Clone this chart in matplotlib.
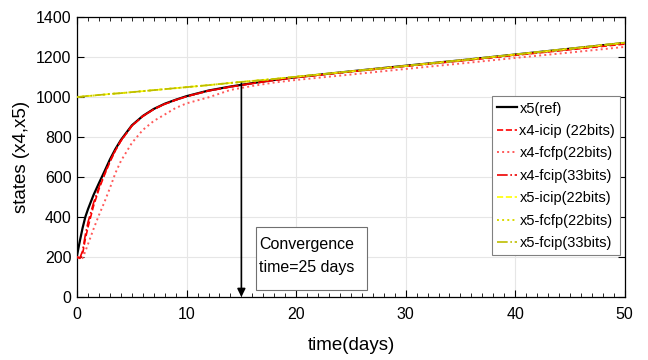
import numpy as np
import matplotlib
matplotlib.use('Agg')
import matplotlib.pyplot as plt
from matplotlib.ticker import MultipleLocator
from matplotlib.patches import Rectangle

plt.rcParams['font.family'] = ['Liberation Sans', 'DejaVu Sans']

# time samples (days)
t = [0, 0.25, 0.5, 0.75, 1, 1.5, 2, 2.5, 3, 3.5, 4, 5, 6, 7, 8, 9, 10,
     12, 14, 16, 18, 20, 25, 30, 35, 40, 45, 50]

# reference x4 trajectory (black)
x_ref = [210, 280, 345, 400, 440, 510, 570, 628, 688, 740, 785, 858, 905, 940,
         966, 986, 1004, 1032, 1052, 1069, 1085, 1099, 1128, 1156, 1183, 1212,
         1241, 1270]

# x4 estimates
x4_icip = [200, 193, 215, 290, 350, 455, 540, 610, 675, 732, 780, 855, 903, 938,
           964, 984, 1002, 1030, 1050, 1067, 1083, 1097, 1126, 1153, 1180, 1208,
           1236, 1264]
x4_fcfp = [200, 192, 195, 228, 265, 340, 410, 475, 545, 620, 680, 770, 835, 880,
           912, 945, 968, 998, 1035, 1055, 1072, 1085, 1112, 1140, 1167, 1195,
           1222, 1250]
x4_fcip = [200, 195, 230, 310, 375, 470, 550, 615, 680, 735, 782, 856, 904, 939,
           965, 985, 1003, 1031, 1051, 1068, 1084, 1098, 1127, 1155, 1182, 1210,
           1239, 1268]

# x5 estimates (all nearly identical)
x5_icip = [1000, 1001, 1002, 1004, 1005, 1007, 1010, 1012, 1015, 1017, 1019, 1024,
           1029, 1034, 1039, 1044, 1049, 1059, 1070, 1080, 1090, 1101, 1128, 1155,
           1183, 1212, 1241, 1271]
x5_fcfp = list(x5_icip)
x5_fcip = list(x5_icip)

conv_day = 15

fig = plt.figure(figsize=(6.48, 3.6), dpi=100)
ax = fig.add_axes([0.119, 0.175, 0.845, 0.778])

ax.plot(t, x_ref, color='k', lw=1.6, label='x5(ref)', zorder=3)
ax.plot(t, x4_icip, color='#ff0000', ls='--', lw=1.2, label='x4-icip (22bits)', zorder=4)
ax.plot(t, x4_fcfp, color='#ff5a5a', ls=':', lw=1.4, label='x4-fcfp(22bits)', zorder=4)
ax.plot(t, x4_fcip, color='#ee0000', ls='-.', lw=1.2, label='x4-fcip(33bits)', zorder=4)
ax.plot(t, x5_icip, color='#ffff00', ls='--', lw=1.2, label='x5-icip(22bits)', zorder=5)
ax.plot(t, x5_fcfp, color='#dada00', ls=':', lw=1.4, label='x5-fcfp(22bits)', zorder=5)
ax.plot(t, x5_fcip, color='#bdbd00', ls='-.', lw=1.2, label='x5-fcip(33bits)', zorder=5)

ax.annotate('', xy=(conv_day, 0), xytext=(conv_day, 1068),
            arrowprops=dict(arrowstyle='-|>', color='k', lw=1.2,
                            mutation_scale=12, shrinkA=0, shrinkB=0), zorder=6)
# text box
ax.add_patch(Rectangle((16.3, 35), 10.2, 315, fc='white', ec='#707070', lw=0.8, zorder=7))
ax.text(16.65, 300, 'Convergence\ntime=25 days', fontsize=11.5, va='top', ha='left',
        linespacing=1.7, zorder=8)

ax.set_xlim(0, 50)
ax.set_ylim(0, 1400)
ax.xaxis.set_major_locator(MultipleLocator(10))
ax.xaxis.set_minor_locator(MultipleLocator(1))
ax.yaxis.set_major_locator(MultipleLocator(200))
ax.tick_params(which='both', direction='in', top=True, right=True, labelsize=11.5)
ax.tick_params(axis='x', which='major', pad=7)
ax.tick_params(axis='y', which='major', pad=4)
ax.tick_params(which='major', length=5, width=0.8)
ax.tick_params(which='minor', length=3, width=0.6)
ax.grid(True, which='major', color='#e6e6e6', lw=0.8)
ax.set_axisbelow(True)
for s in ax.spines.values():
    s.set_linewidth(0.9)

ax.set_xlabel('time(days)', fontsize=13.5, labelpad=11)
ax.set_ylabel('states (x4,x5)', fontsize=13.5, labelpad=4)

leg = ax.legend(loc='upper right', bbox_to_anchor=(0.992, 0.716), fontsize=10.5,
                handlelength=1.4, handletextpad=0.15, borderpad=0.35,
                labelspacing=0.58, fancybox=False, framealpha=1, borderaxespad=0)
leg.get_frame().set_edgecolor('#808080')
leg.get_frame().set_linewidth(0.8)

fig.savefig('out.png', dpi=100)
